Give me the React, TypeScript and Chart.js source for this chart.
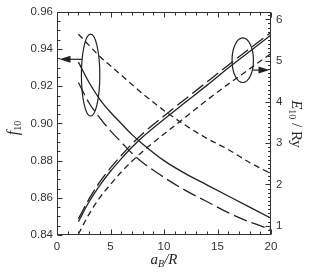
import React, { useEffect, useRef } from "react";
import { Chart, registerables } from "chart.js";

Chart.register(...registerables);

// a_B / R sample positions
const A_VALUES = [2, 3, 4, 5, 6, 7, 8, 10, 12, 14, 16, 18, 20];

// f10 (left axis) – decreasing curves
const F_SOLID = [0.933, 0.922, 0.913, 0.906, 0.9, 0.894, 0.889, 0.88, 0.873, 0.867, 0.861, 0.855, 0.849];
const F_LONG = [0.922, 0.911, 0.903, 0.896, 0.89, 0.884, 0.879, 0.871, 0.864, 0.858, 0.852, 0.847, 0.843];
const F_SHORT = [0.948, 0.942, 0.936, 0.931, 0.926, 0.921, 0.916, 0.907, 0.899, 0.892, 0.886, 0.879, 0.873];

// E10/Ry (right axis) – increasing curves
const E_SOLID = [1.1, 1.58, 1.98, 2.32, 2.62, 2.9, 3.15, 3.58, 3.99, 4.4, 4.82, 5.22, 5.62];
const E_LONG = [1.17, 1.65, 2.06, 2.4, 2.7, 2.98, 3.23, 3.66, 4.07, 4.48, 4.89, 5.29, 5.68];
const E_SHORT = [0.8, 1.28, 1.68, 2.0, 2.3, 2.56, 2.8, 3.22, 3.63, 4.04, 4.43, 4.8, 5.17];

const X_TICKS = [0, 5, 10, 15, 20];
const F_TICKS = [0.84, 0.86, 0.88, 0.9, 0.92, 0.94, 0.96];
const E_TICKS = [1, 2, 3, 4, 5, 6];

// ellipse markers (data units)
const LEFT_ELLIPSE = { a: 3.14, v: 0.926, ra: 0.86, rv: 0.022, arrowV: 0.9345 };
const RIGHT_ELLIPSE = { a: 17.36, v: 5.01, ra: 1.0, rv: 0.54, arrowV: 4.77 };

const INK = "#222";
const SOLID: number[] = [];
const LONG = [14, 5];
const SHORT = [6, 4];

function pts(xs: number[], ys: number[]) {
  return xs.map((x, i) => ({ x, y: ys[i] }));
}

type Part = { t: string; font: string; dy?: number };

function drawRich(ctx: CanvasRenderingContext2D, parts: Part[], cx: number, cy: number, rot: number) {
  ctx.save();
  ctx.translate(cx, cy);
  ctx.rotate(rot);
  let total = 0;
  const widths = parts.map((p) => {
    ctx.font = p.font;
    const w = ctx.measureText(p.t).width;
    total += w;
    return w;
  });
  let x = -total / 2;
  ctx.textBaseline = "alphabetic";
  ctx.textAlign = "left";
  ctx.fillStyle = "#222";
  parts.forEach((p, i) => {
    ctx.font = p.font;
    ctx.fillText(p.t, x, p.dy || 0);
    x += widths[i];
  });
  ctx.restore();
}

const overlay = {
  id: "overlay",
  afterDraw(chart: any) {
    const { ctx, chartArea: ca, scales } = chart;
    const sx = scales.x, sy = scales.y, sy1 = scales.y1;
    ctx.save();
    ctx.strokeStyle = "#333";
    ctx.lineWidth = 1;
    const L = Math.round(ca.left) + 0.5, R = Math.round(ca.right) - 0.5;
    const T = Math.round(ca.top) + 0.5, B = Math.round(ca.bottom) - 0.5;
    ctx.strokeRect(L, T, R - L, B - T);

    ctx.beginPath();
    // x ticks bottom & top
    for (let v = 0; v <= 20; v += 1) {
      const px = Math.round(sx.getPixelForValue(v)) + 0.5;
      const len = v % 5 === 0 ? 5 : 3;
      ctx.moveTo(px, B); ctx.lineTo(px, B - len);
      ctx.moveTo(px, T); ctx.lineTo(px, T + len);
    }
    // left ticks
    for (let k = 0; k <= 24; k++) {
      const v = 0.84 + k * 0.005;
      const py = Math.round(sy.getPixelForValue(v)) + 0.5;
      const len = k % 4 === 0 ? 5 : 3;
      ctx.moveTo(L, py); ctx.lineTo(L + len, py);
    }
    // right ticks
    for (let k = 8; k <= 61; k++) {
      const v = k / 10;
      const py = Math.round(sy1.getPixelForValue(v)) + 0.5;
      if (py < T || py > B) continue;
      const len = k % 10 === 0 ? 5 : 2.5;
      ctx.moveTo(R, py); ctx.lineTo(R - len, py);
    }
    ctx.stroke();

    // ellipses
    ctx.strokeStyle = INK;
    ctx.lineWidth = 1.2;
    const drawEllipse = (e: any, scaleY: any) => {
      const cx = sx.getPixelForValue(e.a);
      const cy = scaleY.getPixelForValue(e.v);
      const rx = Math.abs(sx.getPixelForValue(e.a + e.ra) - cx);
      const ry = Math.abs(scaleY.getPixelForValue(e.v + e.rv) - cy);
      ctx.beginPath();
      ctx.ellipse(cx, cy, rx, ry, 0, 0, Math.PI * 2);
      ctx.stroke();
      return { cx, cy, rx, ry };
    };
    const le = drawEllipse(LEFT_ELLIPSE, sy);
    const re = drawEllipse(RIGHT_ELLIPSE, sy1);

    // arrows
    const arrow = (x0: number, x1: number, yv: number) => {
      const dir = Math.sign(x1 - x0);
      ctx.beginPath();
      ctx.moveTo(x0, yv); ctx.lineTo(x1 - dir * 10, yv);
      ctx.stroke();
      ctx.beginPath();
      ctx.moveTo(x1, yv);
      ctx.lineTo(x1 - dir * 11, yv - 3.5);
      ctx.lineTo(x1 - dir * 11, yv + 3.5);
      ctx.closePath();
      ctx.fillStyle = INK;
      ctx.fill();
    };
    const lay = sy.getPixelForValue(LEFT_ELLIPSE.arrowV);
    const lex = le.cx - le.rx * Math.sqrt(Math.max(0, 1 - ((lay - le.cy) / le.ry) ** 2));
    arrow(lex, L + 2, lay);
    const ray = sy1.getPixelForValue(RIGHT_ELLIPSE.arrowV);
    const rex = re.cx + re.rx * Math.sqrt(Math.max(0, 1 - ((ray - re.cy) / re.ry) ** 2));
    arrow(rex, R - 1, ray);

    // axis titles
    const serifI = (s: number) => `italic ${s}px "Liberation Serif", "DejaVu Serif", serif`;
    const serif = (s: number) => `${s}px "Liberation Serif", "DejaVu Serif", serif`;
    drawRich(ctx, [
      { t: "a", font: serifI(15) },
      { t: "B", font: serifI(10), dy: 3 },
      { t: "/R", font: serifI(15) },
    ], (ca.left + ca.right) / 2, 264, 0);
    drawRich(ctx, [
      { t: "f", font: serifI(16) },
      { t: "10", font: serif(10), dy: 3 },
    ], 18, 128, -Math.PI / 2);
    drawRich(ctx, [
      { t: "E", font: serifI(15) },
      { t: "10", font: serif(10), dy: 3 },
      { t: " / Ry", font: serif(15) },
    ], 292, 124, Math.PI / 2);
    ctx.restore();
  },
};

export default function App() {
  const ref = useRef<HTMLCanvasElement | null>(null);
  useEffect(() => {
    if (!ref.current) return;
    const mk = (label: string, ys: number[], dash: number[], axis: string) => ({
      label,
      data: pts(A_VALUES, ys),
      yAxisID: axis,
      borderColor: INK,
      borderWidth: 1.3,
      borderDash: dash,
      pointRadius: 0,
      fill: false,
      cubicInterpolationMode: "monotone" as const,
    });
    const tickFont = { family: '"Liberation Sans", Arial, sans-serif', size: 11.5 };
    const chart = new Chart(ref.current, {
      type: "line",
      data: {
        datasets: [
          mk("f solid", F_SOLID, SOLID, "y"),
          mk("f long", F_LONG, LONG, "y"),
          mk("f short", F_SHORT, SHORT, "y"),
          mk("E solid", E_SOLID, SOLID, "y1"),
          mk("E long", E_LONG, LONG, "y1"),
          mk("E short", E_SHORT, SHORT, "y1"),
        ],
      },
      options: {
        animation: false,
        responsive: false,
        layout: { padding: { top: 11, left: 0, right: 0, bottom: 0 } },
        plugins: { legend: { display: false }, tooltip: { enabled: false } },
        scales: {
          x: {
            type: "linear",
            min: 0,
            max: 20,
            grid: { display: false, drawTicks: false },
            border: { display: false },
            afterBuildTicks: (s: any) => { s.ticks = X_TICKS.map((v) => ({ value: v })); },
            ticks: { padding: 5, color: "#333", font: tickFont, maxRotation: 0 },
            afterFit: (s: any) => { s.height = 39; },
          },
          y: {
            type: "linear",
            position: "left",
            min: 0.84,
            max: 0.96,
            grid: { display: false, drawTicks: false },
            border: { display: false },
            afterBuildTicks: (s: any) => { s.ticks = F_TICKS.map((v) => ({ value: v })); },
            ticks: { padding: 4, color: "#333", font: tickFont, callback: (v: any) => Number(v).toFixed(2) },
            afterFit: (s: any) => { s.width = 57; },
          },
          y1: {
            type: "linear",
            position: "right",
            min: 0.775,
            max: 6.18,
            grid: { display: false, drawTicks: false },
            border: { display: false },
            afterBuildTicks: (s: any) => { s.ticks = E_TICKS.map((v) => ({ value: v })); },
            ticks: { padding: 5, color: "#333", font: tickFont, callback: (v: any) => String(v) },
            afterFit: (s: any) => { s.width = 38; },
          },
        },
      },
      plugins: [overlay],
    });
    return () => chart.destroy();
  }, []);
  return (
    <div style={{ position: "fixed", left: 0, top: 0, width: 309, height: 274, background: "#fff" }}>
      <canvas ref={ref} width={309} height={274} style={{ display: "block" }} />
    </div>
  );
}
